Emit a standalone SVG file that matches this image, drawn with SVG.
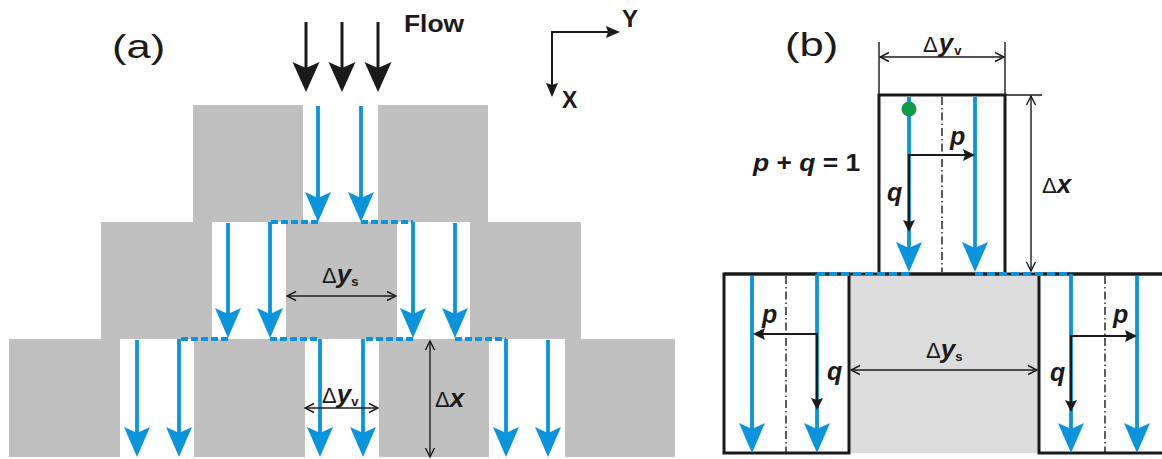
<svg xmlns="http://www.w3.org/2000/svg" width="1162" height="459" viewBox="0 0 1162 459">
<defs>
<style>
.blk{fill:#c0c0c0}
.flow{stroke:#0a94dc;stroke-width:3.8;fill:none}
.flowd{stroke:#0a94dc;stroke-width:3.8;fill:none;stroke-dasharray:7 3}
.bdash{stroke:#0a94dc;stroke-width:3.8;fill:none;stroke-dasharray:8 4}
.inlet{stroke:#1a1a1a;stroke-width:3;fill:none}
.dim{stroke:#1a1a1a;stroke-width:1.4;fill:none}
.pq{stroke:#1a1a1a;stroke-width:2;fill:none}
.ax{stroke:#1a1a1a;stroke-width:2;fill:none}
.cl{stroke:#1a1a1a;stroke-width:1.4;fill:none;stroke-dasharray:8 3 1.5 3}
.wall{fill:#fff;stroke:#1a1a1a;stroke-width:3}
.gap{fill:#dcdcdc}
.t{font-family:'Liberation Sans',Arial,Helvetica,sans-serif;fill:#1a1a1a}
.b{font-weight:bold}
.bi{font-weight:bold;font-style:italic}
.dl{font-size:22px}
.dv{font-size:26px;font-weight:bold;font-style:italic}
.ds{font-size:13px;font-weight:bold}
</style>
<marker id="hb" viewBox="-8 -15 34 30" refX="0" refY="0" markerWidth="34" markerHeight="30" markerUnits="userSpaceOnUse" orient="auto"><path d="M24,0 L-6,-13 L0,0 L-6,13 Z" fill="#0a94dc"/></marker>
<marker id="hk" viewBox="-8 -15 34 30" refX="0" refY="0" markerWidth="34" markerHeight="30" markerUnits="userSpaceOnUse" orient="auto"><path d="M24,0 L-6,-13.5 L0,0 L-6,13.5 Z" fill="#1a1a1a"/></marker>
<marker id="hs" viewBox="-4 -8 16 16" refX="0" refY="0" markerWidth="16" markerHeight="16" markerUnits="userSpaceOnUse" orient="auto"><path d="M10,0 L-2,-6 L0,0 L-2,6 Z" fill="#1a1a1a"/></marker>
<marker id="ha" viewBox="-4 -8 18 16" refX="0" refY="0" markerWidth="18" markerHeight="16" markerUnits="userSpaceOnUse" orient="auto"><path d="M12,0 L-2,-6 L0,0 L-2,6 Z" fill="#1a1a1a"/></marker>
<marker id="hd" viewBox="-11 -6 12 12" refX="0" refY="0" markerWidth="12" markerHeight="12" markerUnits="userSpaceOnUse" orient="auto-start-reverse"><path d="M-9,-4.5 L0,0 L-9,4.5" fill="none" stroke="#1a1a1a" stroke-width="1.4"/></marker>
</defs>

<!-- Panel (a): obstacle blocks -->
<g id="panel-a-blocks">
<g id="block-r1-1"><rect class="blk" x="193" y="105" width="110" height="117"/></g>
<g id="block-r1-2"><rect class="blk" x="378" y="105" width="110" height="117"/></g>
<g id="block-r2-1"><rect class="blk" x="101" y="222" width="111" height="117"/></g>
<g id="block-r2-2"><rect class="blk" x="286" y="222" width="111" height="117"/></g>
<g id="block-r2-3"><rect class="blk" x="470" y="222" width="111" height="117"/></g>
<g id="block-r3-1"><rect class="blk" x="9" y="339" width="111" height="118"/></g>
<g id="block-r3-2"><rect class="blk" x="194" y="339" width="111" height="118"/></g>
<g id="block-r3-3"><rect class="blk" x="379" y="339" width="110" height="118"/></g>
<g id="block-r3-4"><rect class="blk" x="565" y="339" width="110" height="118"/></g>
</g>

<!-- Panel (b): cells -->
<g id="panel-b-cells">
<g id="solid-gap"><rect class="gap" x="849" y="274" width="190" height="179"/></g>
<g id="cell-top"><rect class="wall" x="879" y="95" width="126" height="179"/></g>
<g id="cell-left"><rect class="wall" x="724" y="274" width="125" height="179"/></g>
<g id="cell-right"><rect class="wall" x="1039" y="274" width="140" height="179"/></g>
<line x1="724" y1="274" x2="1162" y2="274" stroke="#1a1a1a" stroke-width="3"/>
<line class="cl" x1="942" y1="97" x2="942" y2="272"/>
<line class="cl" x1="786" y1="276" x2="786" y2="452"/>
<line class="cl" x1="1105" y1="276" x2="1105" y2="452"/>
</g>

<g id="connectors">
<!-- inlet flow arrows -->
<path class="inlet" d="M306,22 V68" marker-end="url(#hk)"/>
<path class="inlet" d="M342,22 V68" marker-end="url(#hk)"/>
<path class="inlet" d="M378,22 V68" marker-end="url(#hk)"/>
<!-- axes -->
<path class="ax" d="M552,32 H608" marker-end="url(#ha)"/>
<path class="ax" d="M552,31 V85" marker-end="url(#ha)"/>
<!-- row 1 streams -->
<path class="flow" d="M318,106 V198" marker-end="url(#hb)"/>
<path class="flow" d="M361,106 V198" marker-end="url(#hb)"/>
<!-- row 1 to row 2 splits -->
<path class="flowd" d="M318,222 H270"/>
<path class="flowd" d="M361,222 H413"/>
<!-- row 2 streams -->
<path class="flow" d="M228,223 V314" marker-end="url(#hb)"/>
<path class="flow" d="M270,222 V314" marker-end="url(#hb)"/>
<path class="flow" d="M413,222 V314" marker-end="url(#hb)"/>
<path class="flow" d="M455,223 V314" marker-end="url(#hb)"/>
<!-- row 2 to row 3 splits -->
<path class="flowd" d="M228,339 H179"/>
<path class="flowd" d="M270,339 H320"/>
<path class="flowd" d="M413,339 H363"/>
<path class="flowd" d="M455,339 H506"/>
<!-- row 3 streams -->
<path class="flow" d="M137,340 V433" marker-end="url(#hb)"/>
<path class="flow" d="M179,339 V433" marker-end="url(#hb)"/>
<path class="flow" d="M320,339 V433" marker-end="url(#hb)"/>
<path class="flow" d="M363,339 V433" marker-end="url(#hb)"/>
<path class="flow" d="M506,339 V433" marker-end="url(#hb)"/>
<path class="flow" d="M548,340 V433" marker-end="url(#hb)"/>
<!-- panel a dimensions -->
<path class="dim" d="M287,296 H396" marker-start="url(#hd)" marker-end="url(#hd)"/>
<path class="dim" d="M305,408 H378" marker-start="url(#hd)" marker-end="url(#hd)"/>
<path class="dim" d="M430,341 V457" marker-start="url(#hd)" marker-end="url(#hd)"/>

<!-- panel b streams -->
<path class="flow" d="M909,97 V248" marker-end="url(#hb)"/>
<path class="flow" d="M975,97 V248" marker-end="url(#hb)"/>
<path class="flow" d="M752,276 V429" marker-end="url(#hb)"/>
<path class="flow" d="M817,274 V429" marker-end="url(#hb)"/>
<path class="flow" d="M1071,274 V429" marker-end="url(#hb)"/>
<path class="flow" d="M1137,276 V429" marker-end="url(#hb)"/>
<path class="bdash" d="M817,274 H909"/>
<path class="bdash" d="M975,274 H1071"/>
<!-- p / q transitions -->
<path class="pq" d="M909,155 H965" marker-end="url(#hs)"/>
<path class="pq" d="M909,154 V222" marker-end="url(#hs)"/>
<path class="pq" d="M817,334 H763" marker-end="url(#hs)"/>
<path class="pq" d="M817,333 V400" marker-end="url(#hs)"/>
<path class="pq" d="M1071,336 H1127" marker-end="url(#hs)"/>
<path class="pq" d="M1071,335 V402" marker-end="url(#hs)"/>
<!-- panel b dimensions -->
<path class="dim" d="M879,42 V95 M1005,42 V95 M1005,95 H1042"/>
<path class="dim" d="M880,57 H1004" marker-start="url(#hd)" marker-end="url(#hd)"/>
<path class="dim" d="M1031,96 V271" marker-start="url(#hd)" marker-end="url(#hd)"/>
<path class="dim" d="M851,370 H1037" marker-start="url(#hd)" marker-end="url(#hd)"/>
</g>

<g id="particle"><circle cx="909" cy="109" r="7.5" fill="#109a48"/></g>

<g id="labels" class="t">
<text transform="translate(112,58) scale(1.28,1)" font-size="34">(a)</text>
<text class="b" transform="translate(404,32) scale(1.1,1)" font-size="24">Flow</text>
<text class="b" x="622" y="27" font-size="24">Y</text>
<text class="b" x="562" y="108" font-size="23">X</text>
<text class="dl" x="322" y="283">Δ<tspan class="dv">y</tspan><tspan class="ds" dy="3">s</tspan></text>
<text class="dl" x="322" y="403">Δ<tspan class="dv">y</tspan><tspan class="ds" dy="3">v</tspan></text>
<text class="dl" x="435" y="407">Δ<tspan class="dv">x</tspan></text>

<text transform="translate(785,56) scale(1.28,1)" font-size="34">(b)</text>
<text class="dl" x="923" y="52">Δ<tspan class="dv" dx="1">y</tspan><tspan class="ds" dy="3" dx="1">v</tspan></text>
<text class="dl" x="1042" y="193">Δ<tspan class="dv">x</tspan></text>
<text class="dl" x="926" y="358">Δ<tspan class="dv">y</tspan><tspan class="ds" dy="3">s</tspan></text>
<text class="b" transform="translate(753,171) scale(1.15,1)" font-size="23"><tspan class="bi">p</tspan> + <tspan class="bi">q</tspan> = 1</text>
<text class="bi" x="950" y="145" font-size="25">p</text>
<text class="bi" x="887" y="201" font-size="25">q</text>
<text class="bi" x="762" y="323" font-size="25">p</text>
<text class="bi" x="827" y="380" font-size="25">q</text>
<text class="bi" x="1113" y="323" font-size="25">p</text>
<text class="bi" x="1050" y="381" font-size="25">q</text>
</g>
</svg>
